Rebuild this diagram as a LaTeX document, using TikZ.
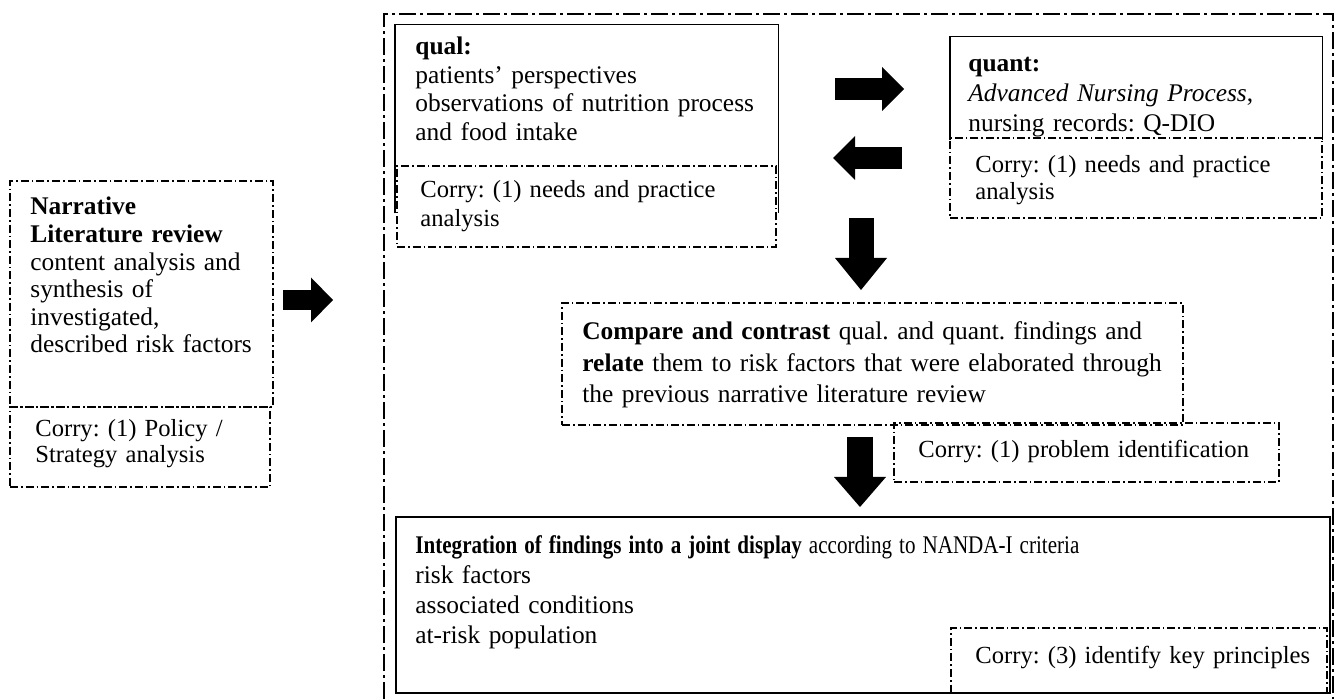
\documentclass[tikz,border=0pt]{standalone}
\usepackage{fontspec}
\setmainfont{Liberation Serif}
\usetikzlibrary{arrows.meta,fit}
\frenchspacing

\begin{document}
\begin{tikzpicture}
[x=0.5pt, y=-0.5pt,
 every node/.style={inner sep=0pt},
 frameline/.style={line width=1.4pt, dash pattern=on 8.5pt off 2pt on 1.5pt off 2pt},
 corryline/.style={line width=0.6pt, dash pattern=on 4pt off 1.5pt on 0.8pt off 1.5pt},
 solidline/.style={line width=0.9pt},
 txt/.style={anchor=base west, align=left, text width=#1},
 bigarrow/.style={line width=#1, -{Triangle[line width=0pt, length=11pt, width=22pt]}},
]
\useasboundingbox (0,0) rectangle (1338,699);

% outer frame
\draw [frameline] (384,699) |- (1333,14) -- (1333,699);

% boxes
\node (nar) [fit={(10,181) (273,407)}, corryline, draw] {};
\node (policy) [fit={(10,407) (270,487)}, corryline, draw] {};
\node (qual) [fit={(395,25) (778,213)}] {};
\draw [solidline] (qual.south west) |- (qual.north east) -- (qual.south east);
\node (qualcorry) [fit={(397,166) (776,247)}, corryline, draw] {};
\node (quant) [fit={(950,37) (1322,140)}] {};
\draw [solidline] (quant.south west) |- (quant.north east) -- (quant.south east);
\node (quantcorry) [fit={(950,138) (1322,218)}, corryline, draw] {};
\node (compare) [fit={(562,303) (1183,425)}, corryline, draw] {};
\node (problem) [fit={(894,423) (1279,482)}, corryline, draw] {};
\node (keyp) [fit={(951,628) (1327,693)}, corryline, draw] {};
\node (integ) [fit={(396,517) (1330,693)}, solidline, draw] {};

% texts
\node [txt=130pt, font=\fontsize{12.7pt}{13.8pt}\selectfont] at (30,215)
  {\textbf{Narrative}\\\textbf{Literature review}\\content analysis and\\synthesis of\\investigated,\\described risk factors};
\node [txt=130pt, font=\fontsize{12.3pt}{13pt}\selectfont] at (35,437)
  {Corry: (1) Policy /\\Strategy analysis};
\node [txt=185pt, font=\fontsize{12.7pt}{14.2pt}\selectfont] at (415,55)
  {\textbf{qual:}\\patients' perspectives\\observations of nutrition process\\and food intake};
\node [txt=180pt, font=\fontsize{12.3pt}{14.5pt}\selectfont] at (420,198)
  {Corry: (1) needs and practice\\analysis};
\node [txt=175pt, font=\fontsize{12.7pt}{15pt}\selectfont] at (968,72)
  {\textbf{quant:}\\\textit{Advanced Nursing Process},\\nursing records: Q-DIO};
\node [txt=170pt, font=\fontsize{12.3pt}{13.5pt}\selectfont] at (975,173)
  {Corry: (1) needs and practice\\analysis};
\node [txt=300pt, font=\fontsize{12.7pt}{15.7pt}\selectfont] at (582,340)
  {\textbf{Compare and contrast} qual. and quant. findings and\\\textbf{relate} them to risk factors that were elaborated through\\the previous narrative literature review};
\node [txt=185pt, font=\fontsize{12.3pt}{14pt}\selectfont] at (918,458)
  {Corry: (1) problem identification};
\node [txt=440pt, font=\fontsize{12.7pt}{15pt}\selectfont] at (415,553)
  {\scalebox{0.83}[1]{\textbf{Integration of findings into a joint display} according to NANDA-I criteria}\\risk factors\\associated conditions\\at-risk population};
\node [txt=180pt, font=\fontsize{12.3pt}{14pt}\selectfont] at (975,663)
  {Corry: (3) identify key principles};

% block arrows
\coordinate (a1s) at (283,300);
\coordinate (a1e) at (333,300);
\coordinate (a2s) at (835,89);
\coordinate (a2e) at (904,89);
\coordinate (a3s) at (902,158);
\coordinate (a3e) at (833,158);
\coordinate (a4s) at (861,218);
\coordinate (a4e) at (861,290);
\coordinate (a5s) at (860,437);
\coordinate (a5e) at (860,507);
\draw [line width=10pt, -{Triangle[line width=0pt, length=11pt, width=22.5pt]}] (a1s) -- (a1e);
\draw [bigarrow=11pt] (a2s) -- (a2e);
\draw [bigarrow=11pt] (a3s) -- (a3e);
\draw [line width=12.5pt, -{Triangle[line width=0pt, length=16pt, width=26pt]}] (a4s) -- (a4e);
\draw [line width=13pt, -{Triangle[line width=0pt, length=15pt, width=26pt]}] (a5s) -- (a5e);
\end{tikzpicture}
\end{document}
